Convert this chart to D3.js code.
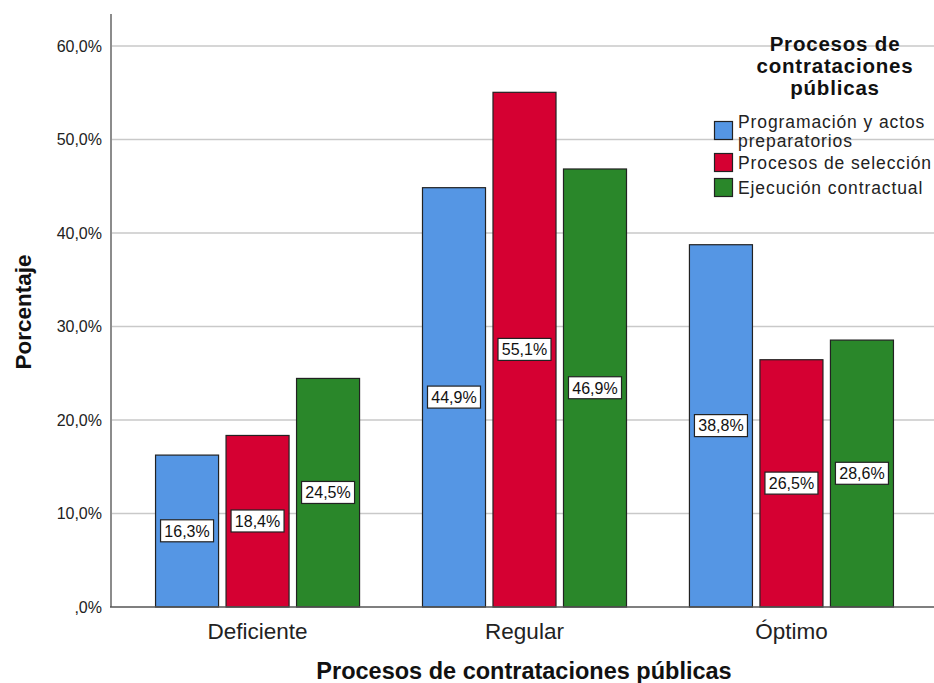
<!DOCTYPE html>
<html>
<head>
<meta charset="utf-8">
<script src="https://cdn.jsdelivr.net/npm/d3@7"></script>
<style>
  html, body { margin: 0; padding: 0; background: #fff; }
  svg { display: block; font-family: "Liberation Sans", Arial, sans-serif; }
</style>
</head>
<body>
<svg id="chart" width="934" height="683"></svg>
<script>
// Categories on the x axis
const categories = ["Deficiente", "Regular", "Óptimo"];
// Series (legend entries)
const seriesNames = ["Programación y actos preparatorios", "Procesos de selección", "Ejecución contractual"];
const seriesLines = [["Programación y actos", "preparatorios"], ["Procesos de selección"], ["Ejecución contractual"]];
const seriesColors = ["#5596e4", "#d50032", "#2a872a"];
// Percentages per series, one value per category
const programacion = [16.3, 44.9, 38.8];
const seleccion = [18.4, 55.1, 26.5];
const ejecucion = [24.5, 46.9, 28.6];
const seriesValues = [programacion, seleccion, ejecucion];
// Y axis ticks
const yTicks = [0, 10, 20, 30, 40, 50, 60];

const svg = d3.select("#chart");
const W = 934, H = 683;
const plotLeft = 111, plotRight = 938, plotTop = 14, plotBottom = 607;

const x0 = d3.scaleBand().domain(categories).range([plotLeft, plotRight])
  .paddingInner(0.232).paddingOuter(0.165);
const x1 = d3.scaleBand().domain(d3.range(seriesNames.length))
  .range([0, x0.bandwidth()]).paddingInner(0.092).paddingOuter(0);
const y = d3.scaleLinear().domain([0, 60]).range([plotBottom, 46]);

const fmt = v => d3.format(".1f")(v).replace(".", ",") + "%";
const fmtTick = v => v === 0 ? ",0%" : d3.format(".1f")(v).replace(".", ",") + "%";

// Gridlines
svg.append("g")
  .selectAll("line")
  .data(yTicks.filter(t => t > 0))
  .join("line")
  .attr("x1", plotLeft).attr("x2", W)
  .attr("y1", d => y(d)).attr("y2", d => y(d))
  .attr("stroke", "#c9c9c9").attr("stroke-width", 1.5);

// Y axis
const yAxis = svg.append("g")
  .attr("transform", `translate(${plotLeft},0)`)
  .call(d3.axisLeft(y).tickValues(yTicks).tickFormat(fmtTick).tickSize(0).tickPadding(9));
yAxis.select(".domain").remove();
yAxis.selectAll("text")
  .attr("font-size", 16).attr("fill", "#222")
  .attr("font-family", "Liberation Sans, Arial, sans-serif");
svg.append("line")
  .attr("x1", plotLeft).attr("x2", plotLeft).attr("y1", plotTop).attr("y2", plotBottom)
  .attr("stroke", "#8c8c8c").attr("stroke-width", 2);

// Bars
const groups = svg.append("g").selectAll("g")
  .data(categories)
  .join("g")
  .attr("transform", d => `translate(${x0(d)},0)`);

const cells = groups.selectAll("g.cell")
  .data((c, ci) => seriesValues.map((vals, si) => ({ si, value: vals[ci] })))
  .join("g").attr("class", "cell");

cells.append("rect")
  .attr("x", d => x1(d.si) + 0.5)
  .attr("y", d => y(d.value) + 0.5)
  .attr("width", x1.bandwidth() - 1)
  .attr("height", d => plotBottom - y(d.value) - 0.5)
  .attr("fill", d => seriesColors[d.si])
  .attr("stroke", "#222").attr("stroke-width", 1.2);

// Baseline
svg.append("line")
  .attr("x1", plotLeft - 1).attr("x2", W).attr("y1", plotBottom).attr("y2", plotBottom)
  .attr("stroke", "#555").attr("stroke-width", 1.3);

// Value labels in boxes
const labels = cells.append("g")
  .attr("transform", d => `translate(${x1(d.si) + x1.bandwidth() / 2},${(y(d.value) + plotBottom) / 2})`);
labels.append("rect")
  .attr("x", -26.5).attr("y", -11).attr("width", 53).attr("height", 22)
  .attr("fill", "#fff").attr("stroke", "#222").attr("stroke-width", 1.2);
labels.append("text")
  .attr("text-anchor", "middle").attr("dy", "0.36em")
  .attr("font-size", 16).attr("fill", "#111")
  .text(d => fmt(d.value));

// X axis category labels
svg.append("g").selectAll("text")
  .data(categories)
  .join("text")
  .attr("x", d => x0(d) + x0.bandwidth() / 2)
  .attr("y", 639)
  .attr("text-anchor", "middle")
  .attr("font-size", 22.5).attr("fill", "#222")
  .text(d => d);

// Axis titles
svg.append("text")
  .attr("x", 524).attr("y", 679)
  .attr("text-anchor", "middle")
  .attr("font-size", 23.5).attr("font-weight", "bold").attr("fill", "#111")
  .text("Procesos de contrataciones públicas");

svg.append("text")
  .attr("transform", "translate(31,312) rotate(-90)")
  .attr("text-anchor", "middle")
  .attr("font-size", 22.5).attr("font-weight", "bold").attr("fill", "#111")
  .text("Porcentaje");

// Legend
const legend = svg.append("g");
const titleLines = ["Procesos de", "contrataciones", "públicas"];
legend.selectAll("text.title")
  .data(titleLines)
  .join("text").attr("class", "title")
  .attr("x", 835).attr("y", (d, i) => 51 + i * 22)
  .attr("text-anchor", "middle")
  .attr("font-size", 20.5).attr("font-weight", "bold").attr("fill", "#111")
  .attr("letter-spacing", 0.8)
  .text(d => d);

const itemY = [121, 153, 178];
const items = legend.selectAll("g.item")
  .data(seriesNames)
  .join("g").attr("class", "item")
  .attr("transform", (d, i) => `translate(714,${itemY[i]})`);
items.append("rect")
  .attr("x", 0.5).attr("y", 0.5).attr("width", 18).attr("height", 18)
  .attr("fill", (d, i) => seriesColors[i])
  .attr("stroke", "#222").attr("stroke-width", 1.2);
items.each(function (d, i) {
  const t = d3.select(this).append("text")
    .attr("x", 24).attr("y", i === 0 ? 6.5 : 16)
    .attr("font-size", 17.5).attr("fill", "#222")
    .attr("letter-spacing", 0.9);
  seriesLines[i].forEach((line, k) => {
    t.append("tspan").attr("x", 24).attr("dy", k === 0 ? 0 : 19).text(line);
  });
});
</script>
</body>
</html>
